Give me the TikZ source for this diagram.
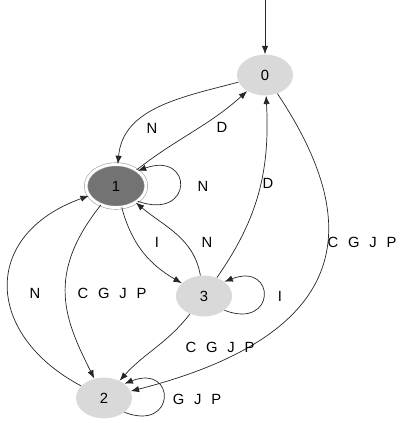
\documentclass[tikz,border=0pt]{standalone}
\usepackage{fontspec}
\setmainfont{Liberation Sans}[WordSpace=2.4]
\usetikzlibrary{shapes.geometric,arrows.meta}
\begin{document}
\begin{tikzpicture}[
        estado/.style={ellipse, fill=black!15, inner sep=0pt, minimum width=1.4cm, minimum height=1.02cm, font=\fontsize{10.5}{12}\selectfont},
        final/.style={estado, fill=black!55, draw=black!40, double=white, double distance=2pt, minimum width=1.5cm, minimum height=1.08cm},
        flecha/.style={-{Latex[length=6pt,width=4.5pt]}, black!85, line width=.5pt},
        etiq/.style={font=\fontsize{10.5}{12}\selectfont, inner sep=0pt}]
        \useasboundingbox (0,0) rectangle (10.15,-10.575);
        \node[estado] (q0) at (6.625,-1.875) {0};
        \node[final]  (q1) at (2.9,-4.65)    {1};
        \node[estado] (q3) at (5.1,-7.4)     {3};
        \node[estado] (q2) at (2.6,-9.95)    {2};
        \coordinate (ini) at (6.625,0);
        \draw[flecha] (ini) -- (q0);
        \draw[flecha] (q0) to[out=195,in=85] (q1);
        \draw[flecha] (q1) to[out=38,in=222] (q0);
        \draw[flecha] (q1.-35) .. controls +(1.4,-0.5) and +(1.4,0.5) .. (q1.35);
        \draw[flecha] (q1) to[out=-75,in=150] (q3);
        \draw[flecha] (q3) to[out=100,in=-40] (q1);
        \draw[flecha] (q3) to[out=55,in=-87] (q0);
        \draw[flecha] (q3.-35) .. controls +(1.3,-0.5) and +(1.3,0.5) .. (q3.35);
        \draw[flecha] (q0) .. controls (8.875,-5.25) and (9.25,-8.25) .. (q2);
        \draw[flecha] (q1) .. controls (1.125,-6.875) and (1.625,-8.0) .. (q2);
        \draw[flecha] (q2) .. controls (-0.375,-8.375) and (-0.5,-5.875) .. (q1);
        \draw[flecha] (q3) to[out=-128,in=48] (q2);
        \draw[flecha] (q2.-35) .. controls +(1.3,-0.5) and +(1.3,0.5) .. (q2.35);
        \node[etiq] (e1)  at (3.8,-3.2)    {N};
        \node[etiq] (e2)  at (5.55,-3.175) {D};
        \node[etiq] (e3)  at (5.075,-4.65) {N};
        \node[etiq] (e4)  at (3.925,-6.05) {I};
        \node[etiq] (e5)  at (5.175,-6.05) {N};
        \node[etiq] (e6)  at (6.7,-4.575)  {D};
        \node[etiq] (e7)  at (9.05,-6.05)  {C G J P};
        \node[etiq] (e8)  at (0.875,-7.325) {N};
        \node[etiq] (e9)  at (2.8,-7.325)  {C G J P};
        \node[etiq] (e10) at (7.0,-7.4)    {I};
        \node[etiq] (e11) at (5.5,-8.675)  {C G J P};
        \node[etiq] (e12) at (4.925,-9.975) {G J P};
    \end{tikzpicture}
\end{document}
